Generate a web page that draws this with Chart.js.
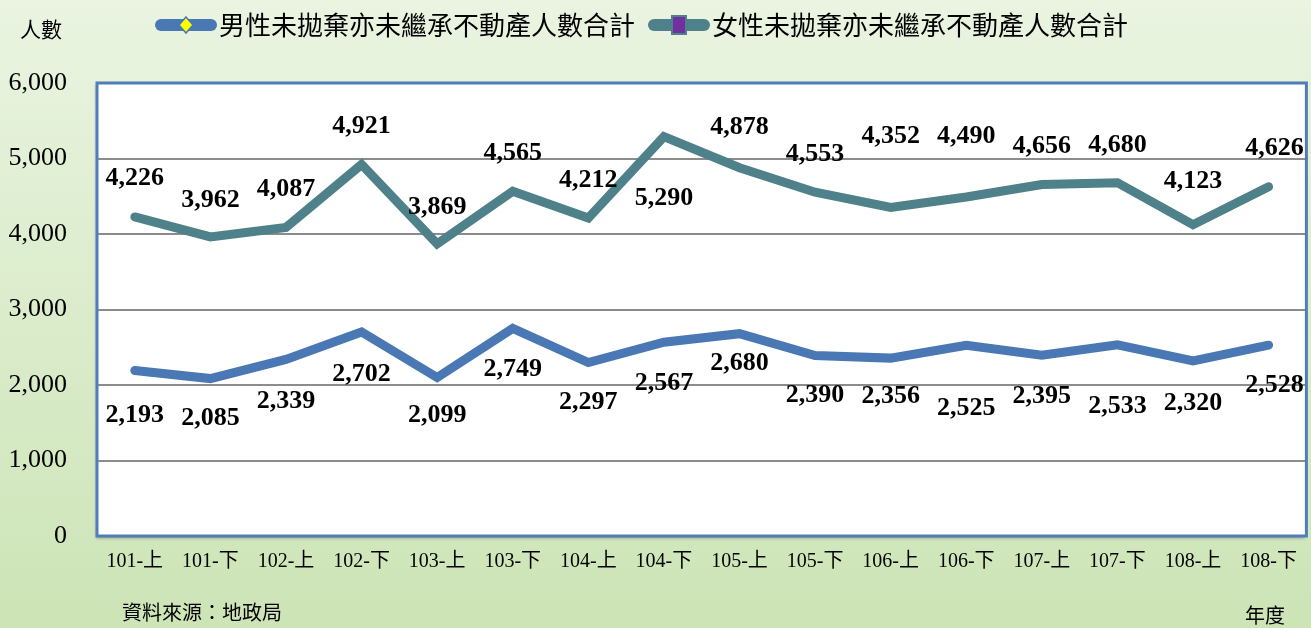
<!DOCTYPE html>
<html lang="zh-Hant">
<head>
<meta charset="utf-8">
<title>未拋棄亦未繼承不動產人數</title>
<script src="https://cdn.jsdelivr.net/npm/chart.js"></script>
<style>
  html, body { margin: 0; padding: 0; background: #fff; }
  #wrap { width: 1311px; height: 628px; }
</style>
</head>
<body>
<div id="wrap"><canvas id="chart" width="1311" height="628"></canvas></div>
<script>
// data
const periods = ['101-上', '101-下', '102-上', '102-下', '103-上', '103-下', '104-上', '104-下',
                 '105-上', '105-下', '106-上', '106-下', '107-上', '107-下', '108-上', '108-下'];
const maleCounts = [2193, 2085, 2339, 2702, 2099, 2749, 2297, 2567, 2680, 2390, 2356, 2525, 2395, 2533, 2320, 2528];
const femaleCounts = [4226, 3962, 4087, 4921, 3869, 4565, 4212, 5290, 4878, 4553, 4352, 4490, 4656, 4680, 4123, 4626];
const yTicks = [0, 1000, 2000, 3000, 4000, 5000, 6000];

const maleName = '男性未拋棄亦未繼承不動產人數合計';
const femaleName = '女性未拋棄亦未繼承不動產人數合計';

// label placement (px from point, + is down)
const maleLabelDy = [45, 40, 42, 42, 38, 41, 40, 41, 30, 40, 38, 63, 41, 62, 42, 40];
const femaleLabelDy = [-39, -37, -38, -38, -37, -38, -38, 62, -40, -38, -71, -61, -38, -37, -43, -38];

const MALE = '#4A78B4';
const FEMALE = '#4E8189';
const SERIF = "'Liberation Serif', 'Times New Roman', 'Noto Sans CJK TC', serif";
const CJK = "'Noto Sans CJK TC', 'Noto Sans CJK SC', sans-serif";

const fmt = v => Number(v).toLocaleString('en-US');

const backdrop = {
  id: 'backdrop',
  beforeDraw(chart) {
    const { ctx, chartArea: a, width, height } = chart;
    ctx.save();
    const g = ctx.createLinearGradient(0, 0, 0, height);
    g.addColorStop(0, '#EAF4E1');
    g.addColorStop(1, '#CCE4B6');
    ctx.fillStyle = g;
    ctx.fillRect(0, 0, width, height);
    ctx.shadowColor = 'rgba(0,0,0,0.35)';
    ctx.shadowBlur = 3;
    ctx.shadowOffsetX = -1;
    ctx.shadowOffsetY = 2;
    ctx.fillStyle = '#ffffff';
    ctx.fillRect(a.left, a.top, a.right - a.left, a.bottom - a.top);
    ctx.restore();
  },
  beforeDatasetsDraw(chart) {
    const { ctx, chartArea: a } = chart;
    ctx.save();
    ctx.strokeStyle = '#4F7EBB';
    ctx.lineWidth = 3;
    ctx.strokeRect(a.left, a.top, a.right - a.left, a.bottom - a.top);
    ctx.restore();
  }
};

const extras = {
  id: 'extras',
  afterDatasetsDraw(chart) {
    const { ctx } = chart;
    ctx.save();
    // value labels
    ctx.font = 'bold 26px ' + SERIF;
    ctx.fillStyle = '#000';
    ctx.textAlign = 'center';
    ctx.textBaseline = 'middle';
    [maleLabelDy, femaleLabelDy].forEach((dys, di) => {
      const meta = chart.getDatasetMeta(di);
      const vals = chart.data.datasets[di].data;
      meta.data.forEach((pt, i) => {
        let x = pt.x;
        if (i === vals.length - 1) x += 6;
        ctx.fillText(fmt(vals[i]), x, pt.y + dys[i]);
      });
    });

    // legend
    const items = [
      { x: 155, color: MALE, name: maleName, marker: 'diamond' },
      { x: 648, color: FEMALE, name: femaleName, marker: 'square' }
    ];
    const ly = 25;
    items.forEach(it => {
      ctx.strokeStyle = it.color;
      ctx.lineWidth = 12;
      ctx.lineCap = 'round';
      ctx.beginPath();
      ctx.moveTo(it.x + 6, ly);
      ctx.lineTo(it.x + 56, ly);
      ctx.stroke();
      const cx = it.x + 31;
      ctx.lineWidth = 1.5;
      if (it.marker === 'diamond') {
        ctx.fillStyle = '#FFFF00';
        ctx.strokeStyle = it.color;
        ctx.beginPath();
        ctx.moveTo(cx, ly - 8);
        ctx.lineTo(cx + 7, ly);
        ctx.lineTo(cx, ly + 8);
        ctx.lineTo(cx - 7, ly);
        ctx.closePath();
        ctx.fill();
        ctx.stroke();
      } else {
        ctx.fillStyle = '#7030A0';
        ctx.strokeStyle = it.color;
        ctx.lineWidth = 2;
        ctx.fillRect(cx - 7, ly - 9, 14, 18);
        ctx.strokeRect(cx - 7, ly - 9, 14, 18);
      }
      ctx.fillStyle = '#000';
      ctx.font = '26px ' + CJK;
      ctx.textAlign = 'left';
      ctx.textBaseline = 'middle';
      ctx.fillText(it.name, it.x + 64, ly);
    });

    // axis captions and source
    ctx.font = '21px ' + CJK;
    ctx.textAlign = 'left';
    ctx.fillText('人數', 20, 29);
    ctx.font = '20px ' + CJK;
    ctx.fillText('資料來源：地政局', 122, 612);
    ctx.fillText('年度', 1245, 615);
    ctx.restore();
  }
};

new Chart(document.getElementById('chart'), {
  type: 'line',
  data: {
    labels: periods,
    datasets: [
      {
        label: maleName,
        data: maleCounts,
        borderColor: MALE,
        borderWidth: 9,
        borderCapStyle: 'round',
        borderJoinStyle: 'miter',
        pointRadius: 0,
        tension: 0,
        fill: false
      },
      {
        label: femaleName,
        data: femaleCounts,
        borderColor: FEMALE,
        borderWidth: 9,
        borderCapStyle: 'round',
        borderJoinStyle: 'miter',
        pointRadius: 0,
        tension: 0,
        fill: false
      }
    ]
  },
  options: {
    responsive: false,
    animation: false,
    devicePixelRatio: 1,
    layout: { padding: { left: 0, right: 2, top: 83, bottom: 0 } },
    plugins: {
      legend: { display: false },
      tooltip: { enabled: false }
    },
    scales: {
      x: {
        offset: true,
        grid: { display: false, drawTicks: false },
        border: { display: false },
        ticks: {
          color: '#000',
          font: { family: SERIF, size: 20 },
          padding: 14,
          maxRotation: 0,
          autoSkip: false
        },
        afterFit(scale) { scale.height = 92; }
      },
      y: {
        min: 0,
        max: 6000,
        afterBuildTicks(scale) { scale.ticks = yTicks.map(v => ({ value: v })); },
        grid: { color: '#8C8C8C', lineWidth: 2, drawTicks: false },
        border: { display: false },
        ticks: {
          color: '#000',
          font: { family: SERIF, size: 26 },
          padding: 30,
          callback: v => fmt(v)
        },
        afterFit(scale) { scale.width = 97; }
      }
    }
  },
  plugins: [backdrop, extras]
});
</script>
</body>
</html>
